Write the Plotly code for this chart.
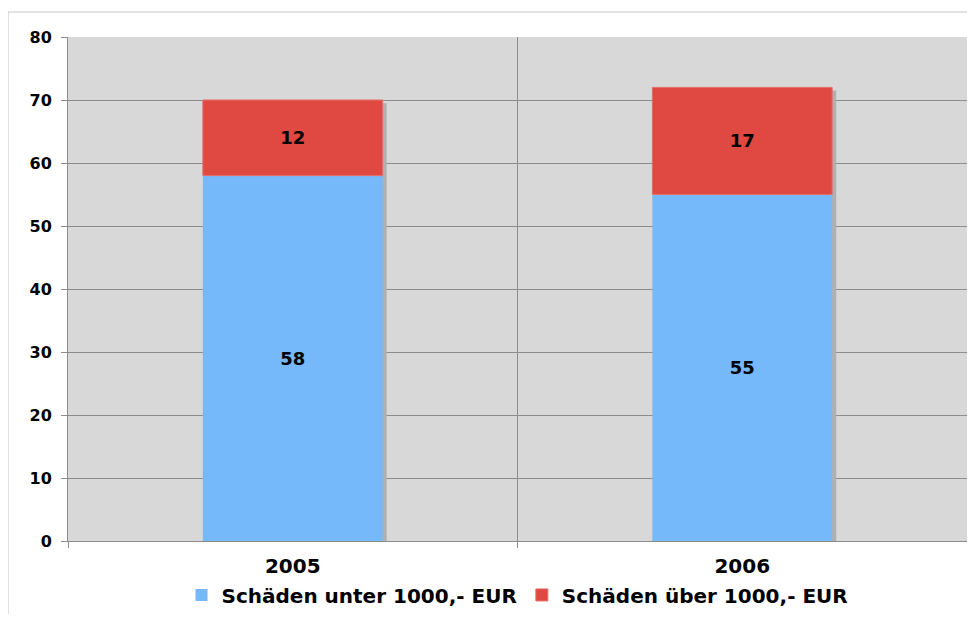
import plotly.graph_objects as go

years = ["2005", "2006"]
under_1000 = [58, 55]
over_1000 = [12, 17]
totals = [a + b for a, b in zip(under_1000, over_1000)]
total_label_y = 75.2
y_ticks = [0, 10, 20, 30, 40, 50, 60, 70, 80]

FONT = "DejaVu Sans"
BLUE = "#75B9FA"
RED = "#E04842"
GRID = "#8c8c8c"

fig = go.Figure()

# drop shadow behind stacked bars
fig.add_trace(go.Bar(
    x=years, y=[t - 0.5 for t in totals], width=0.4, offset=-0.191,
    marker=dict(color="#b0b0b0", line=dict(width=0)),
    showlegend=False, hoverinfo="skip",
))
fig.add_trace(go.Bar(
    x=years, y=under_1000, width=0.4, offset=-0.2,
    name="Schäden unter 1000,- EUR",
    marker=dict(color=BLUE, line=dict(width=0)),
    text=[str(v) for v in under_1000], textposition="inside",
    insidetextanchor="middle",
    textfont=dict(family=FONT, size=18, color="black", weight="bold"),
))
fig.add_trace(go.Bar(
    x=years, y=over_1000, base=under_1000, width=0.4, offset=-0.2,
    name="Schäden über 1000,- EUR",
    marker=dict(color=RED, line=dict(width=1, color="#e46e69")),
    text=[str(v) for v in over_1000], textposition="inside",
    insidetextanchor="middle",
    textfont=dict(family=FONT, size=18, color="black", weight="bold"),
))

for yr, t in zip(years, totals):
    fig.add_annotation(
        x=yr, y=total_label_y, text=f"Gesamt: {t}", showarrow=False,
        font=dict(family=FONT, size=18, color="black", weight="bold"),
    )

# outer chart frame
fig.add_shape(type="rect", xref="paper", yref="paper",
              x0=-0.0667, x1=1.2, y0=-0.3, y1=1.0496,
              line=dict(color="#c4c4c4", width=1), layer="below")

fig.update_layout(
    width=959, height=606,
    margin=dict(l=60, r=0, t=29, b=73, autoexpand=False),
    paper_bgcolor="white", plot_bgcolor="#d8d8d8",
    barmode="overlay",
    font=dict(family=FONT, color="black"),
    legend=dict(orientation="h", x=0.5, xanchor="center", y=-0.107, yanchor="middle",
                font=dict(family=FONT, size=20, color="black", weight="bold"),
                traceorder="normal", itemwidth=30, bgcolor="rgba(0,0,0,0)"),
    xaxis=dict(type="category", tickson="boundaries", ticks="outside", ticklen=6,
               tickcolor=GRID, showgrid=True, gridcolor=GRID, gridwidth=1,
               showline=True, linecolor=GRID, linewidth=1,
               tickfont=dict(family=FONT, size=20, color="black", weight="bold"),
               ticklabelstandoff=7, range=[-0.5, 1.5]),
    yaxis=dict(range=[0, 80], tickvals=y_ticks, ticks="outside", ticklen=6,
               tickcolor=GRID, showgrid=True, gridcolor=GRID, gridwidth=1,
               showline=True, linecolor=GRID, linewidth=1, zeroline=False,
               tickfont=dict(family=FONT, size=16, color="black", weight="bold"),
               ticklabelstandoff=6),
)

fig.write_html("out.html")
